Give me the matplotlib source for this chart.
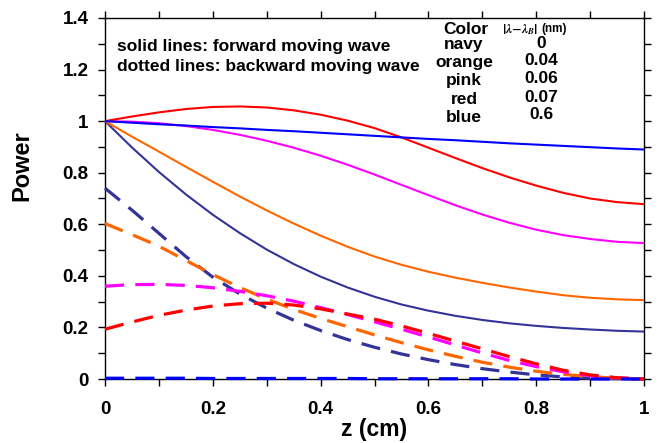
import matplotlib
matplotlib.use("Agg")
import matplotlib.pyplot as plt
from matplotlib.ticker import MultipleLocator, FixedLocator, FixedFormatter

plt.rcParams['font.family'] = ['Liberation Sans', 'DejaVu Sans']
plt.rcParams['font.weight'] = 'bold'
plt.rcParams['mathtext.fontset'] = 'stix'

# ---- data ----
z = [0.0, 0.05, 0.1, 0.15, 0.2, 0.25, 0.3, 0.35, 0.4, 0.45, 0.5,
     0.55, 0.6, 0.65, 0.7, 0.75, 0.8, 0.85, 0.9, 0.95, 1.0]

# forward moving waves (solid)
fwd_navy = [1.0, 0.898, 0.803, 0.716, 0.637, 0.566, 0.502, 0.446, 0.397, 0.355, 0.319,
            0.289, 0.265, 0.245, 0.229, 0.216, 0.206, 0.198, 0.192, 0.187, 0.184]
fwd_orange = [1.0, 0.94, 0.882, 0.823, 0.765, 0.708, 0.654, 0.603, 0.556, 0.513, 0.475,
              0.443, 0.416, 0.393, 0.373, 0.355, 0.339, 0.325, 0.315, 0.309, 0.306]
fwd_pink = [1.0, 0.998, 0.992, 0.981, 0.966, 0.947, 0.924, 0.897, 0.866, 0.831, 0.793,
            0.753, 0.713, 0.674, 0.638, 0.606, 0.579, 0.558, 0.543, 0.532, 0.527]
fwd_red = [1.0, 1.018, 1.034, 1.047, 1.055, 1.057, 1.053, 1.042, 1.025, 1.002, 0.973,
           0.937, 0.897, 0.857, 0.818, 0.782, 0.750, 0.722, 0.700, 0.686, 0.678]
fwd_blue = [1.0, 0.994, 0.988, 0.983, 0.977, 0.972, 0.966, 0.961, 0.955, 0.949, 0.943,
            0.937, 0.931, 0.926, 0.92, 0.914, 0.909, 0.904, 0.899, 0.894, 0.89]

# backward moving waves (dashed)
bwd_navy = [0.74, 0.655, 0.565, 0.475, 0.395, 0.33, 0.275, 0.228, 0.188, 0.153, 0.123,
            0.097, 0.075, 0.056, 0.040, 0.027, 0.016, 0.008, 0.003, 0.001, 0.0]
bwd_orange = [0.603, 0.56, 0.515, 0.46, 0.405, 0.355, 0.31, 0.27, 0.235, 0.203, 0.171,
              0.141, 0.113, 0.088, 0.065, 0.046, 0.030, 0.018, 0.009, 0.003, 0.0]
bwd_pink = [0.36, 0.366, 0.367, 0.363, 0.354, 0.34, 0.323, 0.302, 0.277, 0.25, 0.222,
            0.193, 0.163, 0.132, 0.101, 0.072, 0.048, 0.028, 0.013, 0.004, 0.0]
bwd_red = [0.193, 0.221, 0.247, 0.267, 0.283, 0.292, 0.294, 0.287, 0.272, 0.252, 0.232,
           0.206, 0.177, 0.147, 0.117, 0.087, 0.059, 0.034, 0.016, 0.005, 0.0]
bwd_blue = [0.003, 0.003, 0.003, 0.003, 0.002, 0.002, 0.002, 0.002, 0.002, 0.002, 0.001,
            0.001, 0.001, 0.001, 0.001, 0.001, 0.0, 0.0, 0.0, 0.0, 0.0]

color_names = ['navy', 'orange', 'pink', 'red', 'blue']
detuning = ['0', '0.04', '0.06', '0.07', '0.6']
line_colors = ['#333399', '#FF6600', '#FF00FF', '#FF0000', '#0000FF']

xticks = [0, 0.2, 0.4, 0.6, 0.8, 1.0]
xticklabels = ['0', '0.2', '0.4', '0.6', '0.8', '1']
yticks = [0, 0.2, 0.4, 0.6, 0.8, 1.0, 1.2, 1.4]
yticklabels = ['0', '0.2', '0.4', '0.6', '0.8', '1', '1.2', '1.4']

# ---- figure ----
fig = plt.figure(figsize=(6.62, 4.43), dpi=100)
ax = fig.add_axes([105/662, 1-379/443, 539/662, 361/443])

fwds = [fwd_navy, fwd_orange, fwd_pink, fwd_red, fwd_blue]
bwds = [bwd_navy, bwd_orange, bwd_pink, bwd_red, bwd_blue]
for f, c in zip(fwds, line_colors):
    ax.plot(z, f, color=c, lw=1.5, solid_capstyle='butt', solid_joinstyle='round',
            clip_on=False, zorder=3)
for b, c in zip(bwds, line_colors):
    ax.plot(z, b, color=c, lw=2.3, dashes=(6, 3.5), dash_capstyle='butt',
            clip_on=False, zorder=3)

ax.set_xlim(0, 1)
ax.set_ylim(0, 1.4)
ax.xaxis.set_major_locator(FixedLocator(xticks))
ax.xaxis.set_major_formatter(FixedFormatter(xticklabels))
ax.yaxis.set_major_locator(FixedLocator(yticks))
ax.yaxis.set_major_formatter(FixedFormatter(yticklabels))
ax.xaxis.set_minor_locator(MultipleLocator(0.1))
ax.yaxis.set_minor_locator(MultipleLocator(0.1))
ax.tick_params(which='both', direction='out', top=True, right=True,
               length=4.8, width=1.0, colors='black')
ax.tick_params(axis='x', which='major', pad=11, labelsize=13.5)
ax.tick_params(axis='y', which='major', pad=7, labelsize=13.5)
for s in ax.spines.values():
    s.set_linewidth(1.0)

ax.set_xlabel('z (cm)', fontsize=16.5, fontweight='bold', labelpad=0)
ax.set_ylabel('Power', fontsize=17, fontweight='bold')
ax.yaxis.set_label_coords(-0.132, 0.59)

# annotations
ax.text(117, 443-46, 'solid lines: forward moving wave', transform=None,
        fontsize=12.5, fontweight='bold', va='center', ha='left')
ax.text(117, 443-67, 'dotted lines: backward moving wave', transform=None,
        fontsize=12.5, fontweight='bold', va='center', ha='left')

ax.text(466, 443-34, 'Color', transform=None, fontsize=12.5, fontweight='bold',
        ha='center', va='baseline')
ax.text(502, 443-33, r'$\left|\lambda\!-\!\lambda_B\right|$', transform=None,
        fontsize=9, ha='left', va='baseline')
ax.text(541, 443-32, '(nm)', transform=None, fontsize=8.5, fontweight='bold',
        ha='left', va='baseline')
baselines_name = [49, 67, 85, 104, 122]
baselines_val = [48, 65, 83, 102, 119]
for name, val, yb, yv in zip(color_names, detuning, baselines_name, baselines_val):
    ax.text(464, 443-yb, name, transform=None, fontsize=12.5, fontweight='bold',
            ha='center', va='baseline')
    ax.text(541, 443-yv, val, transform=None, fontsize=12.5, fontweight='bold',
            ha='center', va='baseline')

fig.savefig('out.png', dpi=100)
